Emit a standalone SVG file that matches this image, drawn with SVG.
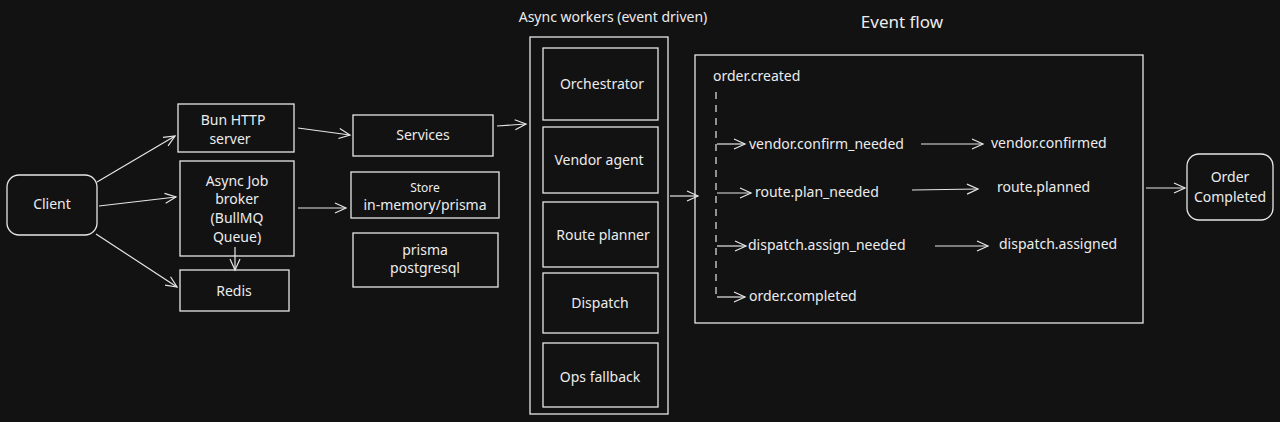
<svg xmlns="http://www.w3.org/2000/svg" width="1280" height="422" viewBox="0 0 1280 422">
<defs>
<marker id="a" markerWidth="14" markerHeight="12" refX="12" refY="6" orient="auto" markerUnits="userSpaceOnUse"><path d="M1,1 L12,6 L1,11" fill="none" stroke="#e6e6e6" stroke-width="1.2"/></marker>
</defs>
<style>
.b{fill:none;stroke:#e6e6e6;stroke-width:1.3}
.t{fill:#ececec;font-family:"Noto Sans","Liberation Sans",sans-serif;font-size:14px;text-anchor:middle}
.l{fill:#ececec;font-family:"Noto Sans","Liberation Sans",sans-serif;font-size:14px}
.c{fill:none;stroke:#e6e6e6;stroke-width:1.2;marker-end:url(#a)}
</style>
<rect width="1280" height="422" fill="#121212"/>
<g id="client"><rect class="b" x="7" y="175" width="90" height="60" rx="12"/><text class="t" x="52" y="209">Client</text></g>
<g id="bun"><rect class="b" x="178" y="104" width="116" height="48"/><text class="t" x="233" y="125">Bun HTTP</text><text class="t" x="230" y="144">server</text></g>
<g id="broker"><rect class="b" x="180" y="161" width="114" height="95"/><text class="t" x="237" y="186">Async Job</text><text class="t" x="237" y="204">broker</text><text class="t" x="237" y="223">(BullMQ</text><text class="t" x="237" y="242">Queue)</text></g>
<g id="redis"><rect class="b" x="180" y="270" width="109" height="41"/><text class="t" x="234" y="296">Redis</text></g>
<g id="services"><rect class="b" x="353" y="115" width="140" height="41"/><text class="t" x="423" y="140">Services</text></g>
<g id="store"><rect class="b" x="351" y="172" width="148" height="46"/><text class="t" x="425" y="192" style="font-size:12px">Store</text><text class="t" x="425" y="210">in-memory/prisma</text></g>
<g id="pg"><rect class="b" x="353" y="233" width="145" height="54"/><text class="t" x="425" y="255">prisma</text><text class="t" x="425" y="273">postgresql</text></g>
<g id="workers"><rect class="b" x="530" y="37" width="138" height="377"/><text class="t" x="613" y="22">Async workers (event driven)</text></g>
<g id="orch"><rect class="b" x="543" y="48" width="115" height="72"/><text class="t" x="602" y="89">Orchestrator</text></g>
<g id="vendor"><rect class="b" x="543" y="127" width="115" height="66"/><text class="t" x="599" y="165">Vendor agent</text></g>
<g id="route"><rect class="b" x="543" y="202" width="115" height="65"/><text class="t" x="603" y="240">Route planner</text></g>
<g id="dispatch"><rect class="b" x="543" y="273" width="115" height="60"/><text class="t" x="600" y="308">Dispatch</text></g>
<g id="ops"><rect class="b" x="543" y="343" width="115" height="64"/><text class="t" x="600" y="382">Ops fallback</text></g>
<g id="eventflow"><rect class="b" x="695" y="55" width="448" height="268"/><text class="t" x="902" y="28" style="font-size:17px">Event flow</text>
<text class="l" x="713" y="81">order.created</text>
<text class="l" x="749" y="149">vendor.confirm_needed</text>
<text class="l" x="991" y="148">vendor.confirmed</text>
<text class="l" x="755" y="197">route.plan_needed</text>
<text class="l" x="997" y="192">route.planned</text>
<text class="l" x="748" y="250">dispatch.assign_needed</text>
<text class="l" x="999" y="249">dispatch.assigned</text>
<text class="l" x="749" y="301">order.completed</text></g>
<g id="done"><rect class="b" x="1187" y="154" width="86" height="66" rx="12"/><text class="t" x="1230" y="182">Order</text><text class="t" x="1230" y="202">Completed</text></g>
<g id="connectors">
<path class="c" d="M97,182 L175,136"/>
<path class="c" d="M99,206 L176,197"/>
<path class="c" d="M96,234 L177,287"/>
<path class="c" d="M298,128 L350,135"/>
<path class="c" d="M298,208 L346,208"/>
<path class="c" d="M235,247 L235,270"/>
<path class="c" d="M497,126 L526,124"/>
<path class="c" d="M670,196 L698,196"/>
<path class="c" d="M1146,188 L1185,188"/>
<path d="M716,92 L716,296" fill="none" stroke="#e6e6e6" stroke-width="1.2" stroke-dasharray="7,6"/>
<path class="c" d="M717,144 L745,144"/>
<path class="c" d="M717,193 L751,193"/>
<path class="c" d="M717,246 L746,246"/>
<path class="c" d="M717,297 L745,297"/>
<path class="c" d="M921,144 L983,144"/>
<path class="c" d="M912,190 L978,189"/>
<path class="c" d="M935,246 L988,246"/>
</g>
</svg>
